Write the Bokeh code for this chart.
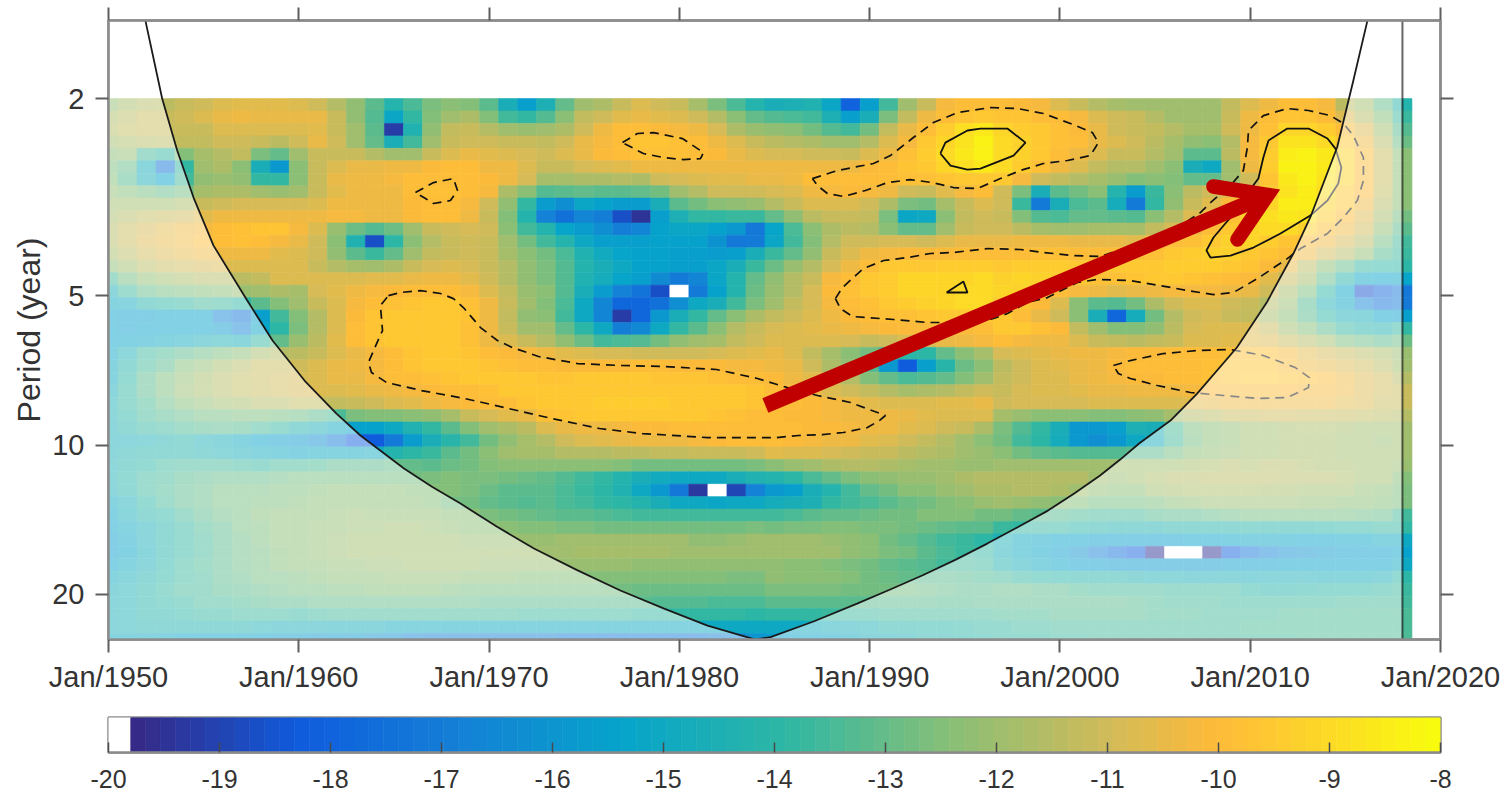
from bokeh.embed import file_html
from bokeh.resources import INLINE
from bokeh.layouts import column
from bokeh.models import (ColumnDataSource, FixedTicker, LinearAxis, LinearColorMapper,
                          LogAxis, Range1d)
from bokeh.plotting import figure
from bokeh.transform import transform
import numpy as np

# Wavelet power per cell, in tenths below zero (122 means -12.2); 200 is below the colour scale.
# One list per period row (top row: period 2), one value per year, 1950..2018.
ROW_00 = [122,118,115,114,112,110,108,106,106,106,108,110,116,122,131,142,134,126,124,125,132,147,156,
          145,130,120,117,112,108,110,112,118,126,134,143,146,145,144,152,180,156,135,120,112,102,100,99,
          100,101,102,107,111,116,118,119,119,120,120,119,113,108,104,100,100,102,114,119,130,142]
ROW_01 = [117,114,112,111,110,108,105,103,105,105,105,105,112,122,133,152,138,125,119,117,125,135,138,
          133,123,113,110,106,105,106,107,110,115,123,130,133,134,135,145,156,146,126,113,103,99,97,95,
          97,97,99,100,102,108,110,112,115,119,120,119,111,103,100,97,97,99,108,115,125,137]
ROW_02 = [116,113,111,111,111,111,108,107,108,108,107,106,111,120,132,192,144,122,113,112,115,119,121,
          120,117,110,104,100,100,101,102,104,109,117,121,122,123,128,133,136,128,113,105,99,94,89,86,
          92,94,96,98,101,105,110,112,113,116,118,118,110,103,98,92,91,94,100,108,120,133]
ROW_03 = [119,117,116,114,113,113,110,110,112,114,110,105,110,119,130,146,135,119,111,110,110,111,111,
          113,110,105,102,99,97,97,98,100,104,108,112,114,116,117,119,120,116,108,102,96,92,87,84,
          90,93,95,98,100,105,107,110,114,118,122,124,115,102,95,88,87,90,95,104,115,129]
ROW_04 = [123,122,135,138,125,118,115,113,126,130,120,111,111,111,115,120,119,112,107,105,106,108,109,
          110,108,105,101,99,98,98,98,99,101,105,107,109,109,110,110,111,108,104,98,94,90,86,83,
          90,93,95,99,103,108,111,112,116,120,132,132,114,102,94,85,83,86,92,100,112,124]
ROW_05 = [126,130,148,173,138,120,117,123,147,158,123,111,107,105,105,104,103,101,100,100,103,104,107,
          111,111,109,108,106,104,103,103,103,104,104,104,104,104,103,103,103,101,99,97,95,92,89,86,
          90,94,98,103,107,113,116,116,120,124,147,150,120,104,94,84,83,86,92,99,112,124]
ROW_06 = [125,133,146,155,136,122,121,122,138,138,123,112,105,104,103,102,100,99,100,100,101,104,109,
          118,118,117,117,116,117,110,109,107,106,106,105,105,103,100,99,99,99,99,98,98,97,96,95,
          95,102,110,113,115,118,121,125,124,125,130,130,120,110,97,86,83,87,92,100,112,123]
ROW_07 = [122,125,128,130,128,118,117,117,120,121,119,111,106,103,103,103,100,98,98,99,102,117,124,
          133,131,130,131,132,130,127,120,115,110,110,110,109,107,104,102,101,102,104,110,111,106,102,100,
          110,126,147,131,128,124,142,157,137,123,114,110,106,100,95,88,85,89,95,101,113,123]
ROW_08 = [120,120,120,119,117,112,110,109,109,109,109,107,104,104,104,103,101,100,100,102,110,122,138,
          157,162,152,154,157,157,147,132,127,123,122,121,116,111,108,107,107,110,117,126,127,118,112,108,
          110,137,170,147,134,132,148,171,139,122,111,106,101,96,91,85,85,91,96,103,115,124]
ROW_09 = [118,116,113,111,110,106,104,104,104,104,104,103,102,102,103,103,101,100,100,104,111,125,142,
          168,175,166,169,187,195,156,145,139,138,137,137,130,122,114,112,111,113,126,152,151,124,113,110,
          112,125,133,134,130,130,132,133,124,116,108,103,98,93,89,86,88,94,100,107,118,127]
ROW_10 = [116,112,109,106,104,102,99,98,97,97,102,108,121,129,133,129,119,111,110,109,110,124,136,
          143,153,157,163,169,166,155,152,152,154,159,172,153,134,124,117,114,115,123,130,130,119,112,110,
          110,114,118,119,119,118,118,118,113,109,104,100,96,92,90,90,93,98,103,110,122,131]
ROW_11 = [116,112,108,105,103,100,99,98,100,102,105,110,123,144,186,140,123,115,111,110,112,120,128,
          135,142,151,156,156,156,155,155,155,161,172,171,152,136,125,115,110,110,109,109,110,108,105,105,
          105,104,104,104,105,105,105,106,103,100,98,95,93,92,94,97,99,103,109,116,128,135]
ROW_12 = [118,114,110,107,105,104,103,103,104,106,107,110,122,132,137,130,120,113,111,110,112,118,124,
          128,134,144,149,153,155,155,156,156,157,156,147,137,130,122,112,107,104,102,101,101,101,100,100,
          100,99,98,98,99,100,100,99,98,96,94,93,93,95,97,100,103,110,116,122,133,137]
ROW_13 = [124,119,114,111,110,109,108,107,108,108,108,111,115,118,119,117,112,109,108,109,111,116,122,
          126,133,142,146,150,154,155,156,156,152,146,137,129,121,115,109,103,99,96,95,95,94,94,94,
          95,94,94,94,95,96,96,96,95,94,94,94,95,97,101,105,114,124,130,138,140,140]
ROW_14 = [136,128,122,119,117,116,115,114,113,108,108,107,107,107,106,106,105,104,104,106,110,116,122,
          126,133,144,148,153,156,164,170,166,152,142,130,122,115,111,102,99,96,94,92,91,91,91,90,
          93,92,93,94,96,98,98,97,96,96,97,98,99,101,106,111,118,130,142,152,154,153]
ROW_15 = [147,137,130,128,126,125,123,121,119,117,118,109,106,103,102,101,100,99,99,102,108,113,121,
          124,133,146,157,168,173,186,200,171,154,143,129,121,115,109,101,98,96,94,92,91,91,90,90,
          92,93,95,99,102,104,106,105,103,102,102,102,103,105,110,118,126,140,153,185,179,172]
ROW_16 = [151,149,142,140,138,136,137,140,132,125,120,112,107,102,100,98,97,96,96,98,104,112,120,
          125,134,150,166,179,178,174,162,151,146,135,126,119,113,109,102,99,98,95,94,93,92,90,90,
          95,97,101,108,124,131,133,128,117,110,108,108,110,111,116,121,133,145,152,166,174,170]
ROW_17 = [155,156,156,154,154,154,166,173,156,135,125,116,107,101,97,96,96,95,96,97,104,113,122,
          124,135,151,167,192,178,158,146,139,130,123,117,113,110,107,103,101,100,98,98,97,96,95,95,
          96,100,105,110,124,147,178,148,127,115,110,109,111,113,118,123,132,140,146,148,154,156]
ROW_18 = [155,156,155,155,155,155,158,166,153,140,126,116,107,100,97,96,95,95,96,98,104,112,120,
          120,130,140,151,169,165,150,139,131,123,116,112,109,108,106,105,103,102,101,101,101,101,101,100,
          95,96,98,101,113,120,125,125,122,114,109,107,107,108,112,120,125,132,139,142,144,139]
ROW_19 = [154,153,152,150,149,146,145,148,138,130,121,114,106,100,97,96,95,95,96,98,103,108,112,
          116,122,129,136,134,133,128,122,120,118,113,110,108,107,107,108,109,111,110,108,107,105,104,102,
          100,102,103,104,107,111,113,114,113,111,108,107,106,106,108,112,116,120,126,129,132,129]
ROW_20 = [152,145,137,134,131,129,126,123,118,115,114,111,108,105,102,99,97,96,96,97,99,101,102,
          103,106,108,109,109,110,110,110,110,109,108,106,105,108,113,118,123,128,136,140,140,130,123,118,
          109,107,106,105,104,103,102,101,101,100,100,99,98,98,98,102,106,109,111,114,117,121]
ROW_21 = [150,142,135,131,125,122,118,115,112,111,110,108,105,104,102,99,97,95,95,95,97,98,99,
          100,101,101,101,101,100,100,101,101,101,102,102,103,105,110,117,122,133,158,182,156,141,129,124,
          114,110,108,106,105,103,101,100,100,99,99,98,97,97,97,100,103,105,108,110,114,120]
ROW_22 = [150,140,132,126,122,118,115,113,111,110,109,107,105,105,102,100,99,98,97,96,96,96,96,
          97,97,96,96,96,96,97,97,97,98,99,100,101,103,106,110,116,125,130,134,133,130,125,120,
          113,110,108,107,105,104,102,101,101,100,99,98,97,96,96,97,98,100,103,107,110,115]
ROW_23 = [148,139,132,126,121,118,115,113,111,110,109,108,107,106,105,104,102,101,100,99,98,96,95,
          95,95,95,95,95,95,95,95,95,96,96,97,99,102,104,107,110,113,116,118,117,115,113,110,
          111,109,108,107,106,105,105,104,104,103,102,101,100,100,100,101,102,102,104,107,110,112]
ROW_24 = [145,139,134,129,125,122,120,118,116,115,113,113,113,111,110,108,106,104,102,101,100,99,97,
          96,95,95,94,94,94,94,95,95,95,96,97,99,100,101,102,104,106,107,108,107,106,106,105,
          110,109,109,109,109,108,108,108,108,107,106,105,104,104,104,104,104,104,106,108,111,112]
ROW_25 = [145,140,136,133,130,128,127,126,126,127,129,131,134,126,125,125,124,122,118,112,109,106,105,
          98,97,96,95,95,95,95,96,96,97,98,99,100,101,101,102,103,104,104,105,106,107,107,107,
          118,121,123,124,124,125,125,123,122,118,116,114,112,111,110,110,111,111,112,113,114,115]
ROW_26 = [146,142,139,137,134,133,132,133,135,139,144,147,150,154,154,151,144,138,132,125,120,117,114,
          108,105,104,103,102,101,101,100,100,100,99,99,99,100,101,101,102,103,104,106,108,110,112,117,
          126,133,139,146,158,159,156,145,146,134,126,123,122,120,119,118,117,117,118,119,120,120]
ROW_27 = [147,146,145,144,143,145,148,151,155,157,158,162,170,183,183,170,157,147,141,135,128,122,118,
          115,110,108,106,105,104,103,103,102,101,100,100,100,101,102,103,104,106,108,110,113,116,120,123,
          128,136,140,148,158,162,158,150,148,136,127,123,122,120,119,118,118,118,119,120,121,120]
ROW_28 = [146,144,143,142,143,144,145,148,149,151,152,151,151,150,149,143,140,137,132,128,124,120,118,
          118,116,115,115,114,114,113,113,112,112,111,110,106,107,108,109,110,111,112,114,115,117,119,121,
          124,127,130,132,133,133,133,132,131,127,124,122,121,120,119,118,118,118,119,120,120,120]
ROW_29 = [145,142,140,137,136,135,136,137,138,136,135,134,132,132,131,130,130,132,129,127,125,123,123,
          123,123,124,124,125,127,127,128,128,128,127,126,124,121,119,117,116,116,117,118,119,120,121,121,
          120,120,120,120,120,120,120,120,120,119,118,117,116,117,116,116,117,118,118,119,120,121]
ROW_30 = [145,141,137,135,133,131,130,130,130,129,128,127,127,127,128,128,127,126,125,126,126,127,129,
          130,133,135,138,142,146,149,151,150,150,147,144,
          143,140,134,130,126,124,122,121,121,119,117,116,116,115,115,115,116,119,121,119,117,115,115,114,114,114,114,115,116,116,117,119,120,125]
ROW_31 = [146,142,137,134,131,130,128,128,127,126,126,125,124,124,124,124,125,125,125,126,129,132,131,
          131,134,137,140,144,150,159,172,193,200,189,168,
          158,156,146,142,135,130,128,124,123,121,119,117,117,116,116,117,119,122,124,123,120,118,117,117,117,117,118,118,119,119,120,122,124,126]
ROW_32 = [150,146,140,136,132,130,128,127,126,126,125,124,123,123,123,123,124,125,127,128,130,131,133,
          132,134,136,138,140,143,146,150,151,152,151,150,
          148,147,145,139,136,134,132,129,127,125,124,121,120,121,122,123,125,127,128,127,126,124,122,121,121,121,121,121,122,122,123,124,125,126]
ROW_33 = [153,148,143,140,136,132,129,127,125,124,123,123,122,121,122,122,122,122,123,124,126,128,129,
          130,131,132,133,134,135,136,136,136,136,136,135,
          135,134,132,130,130,129,128,127,125,125,125,127,128,130,131,133,134,135,136,135,133,132,131,130,129,128,128,128,128,128,128,129,130,135]
ROW_34 = [155,150,146,142,138,134,131,128,126,124,123,122,122,121,121,120,120,121,122,123,124,124,125,
          125,126,126,127,127,128,128,128,127,127,127,126,
          127,126,126,125,125,126,126,127,129,130,131,132,137,138,138,139,141,143,144,144,144,143,142,142,142,141,142,142,142,141,140,140,139,139]
ROW_35 = [157,152,147,143,138,135,132,129,126,124,123,122,121,120,120,120,120,120,120,121,121,121,121,
          121,120,119,119,119,119,119,120,122,122,121,120,
          120,120,120,121,122,124,127,130,133,135,137,140,145,150,152,154,155,156,156,156,156,156,155,155,153,152,152,153,154,154,153,153,150,150]
ROW_36 = [157,153,148,142,138,135,132,129,127,125,123,122,121,120,120,120,120,119,119,119,120,120,120,
          119,119,118,118,118,118,118,119,120,120,120,119,
          119,119,119,120,122,124,126,128,131,134,137,139,147,151,153,156,160,168,175,181,195,200,200,195,181,172,167,162,160,159,157,156,156,155]
ROW_37 = [155,150,146,141,137,134,131,129,127,125,124,123,122,122,121,121,120,120,120,120,121,121,121,
          121,121,121,121,121,122,122,122,122,122,122,122,
          122,123,124,125,126,128,130,131,133,135,136,137,144,148,151,153,156,157,158,158,159,159,159,158,157,156,156,155,155,155,155,155,154,151]
ROW_38 = [150,148,144,140,137,135,132,130,128,127,126,125,124,123,123,122,122,122,122,123,123,124,125,
          125,125,125,125,125,125,125,125,125,125,126,126,
          122,123,123,124,125,127,129,130,131,132,133,134,136,139,140,141,142,142,143,144,145,145,146,146,147,148,147,147,147,148,148,148,147,140]
ROW_39 = [148,145,142,139,136,135,133,131,130,129,128,127,126,126,125,125,125,125,126,127,127,128,128,
          128,128,128,128,128,129,129,129,129,129,129,129,
          126,126,126,126,127,127,127,128,129,130,131,131,130,130,131,132,134,135,135,136,136,137,137,137,137,140,142,142,141,140,140,140,139,137]
ROW_40 = [147,145,142,140,138,136,135,134,133,132,131,130,130,130,130,130,130,130,130,130,131,132,132,
          132,132,132,132,132,132,133,133,133,134,134,134,
          131,131,131,132,132,131,131,131,132,133,133,132,131,131,131,131,131,132,132,133,134,135,136,136,137,137,137,137,137,137,136,136,136,135]
ROW_41 = [147,145,143,142,140,139,138,137,137,137,138,137,136,135,135,135,135,135,135,135,136,136,137,
          137,137,137,137,137,138,138,138,138,138,139,140,
          138,138,138,137,137,137,136,135,135,135,135,135,134,134,134,133,133,133,133,133,134,134,134,135,135,135,135,134,134,134,134,134,134,134]
ROW_42 = [146,145,144,144,144,144,144,144,145,146,146,147,148,148,148,149,149,149,150,150,150,150,150,
          150,150,150,150,150,150,150,150,150,150,150,150,
          150,150,149,148,147,145,143,142,141,141,140,139,138,137,137,136,136,136,136,135,135,135,135,135,135,134,134,134,134,134,134,134,134,134]
ROW_43 = [150,150,150,152,153,154,154,155,155,156,157,158,158,158,160,163,166,168,168,168,168,168,168,
          168,170,170,170,170,170,170,170,170,168,165,160,
          157,155,154,152,150,148,147,145,143,142,141,140,139,138,138,137,137,136,136,136,135,135,135,135,135,135,135,135,134,134,134,134,134,134]

ROWS = [ROW_00, ROW_01, ROW_02, ROW_03, ROW_04, ROW_05, ROW_06, ROW_07, ROW_08, ROW_09, ROW_10,
        ROW_11, ROW_12, ROW_13, ROW_14, ROW_15, ROW_16, ROW_17, ROW_18, ROW_19, ROW_20, ROW_21,
        ROW_22, ROW_23, ROW_24, ROW_25, ROW_26, ROW_27, ROW_28, ROW_29, ROW_30, ROW_31, ROW_32,
        ROW_33, ROW_34, ROW_35, ROW_36, ROW_37, ROW_38, ROW_39, ROW_40, ROW_41, ROW_42, ROW_43]
bad = [(i, len(r)) for i, r in enumerate(ROWS) if len(r) != 69]
if bad:
    raise SystemExit(f"bad rows: {bad}")

YEARS = list(range(1950, 2019))
X_TICKS = [1950, 1960, 1970, 1980, 1990, 2000, 2010, 2020]
X_LABELS = ["Jan/1950", "Jan/1960", "Jan/1970", "Jan/1980", "Jan/1990", "Jan/2000", "Jan/2010", "Jan/2020"]
Y_TICKS = [2, 5, 10, 20]
CB_TICKS = [-20, -19, -18, -17, -16, -15, -14, -13, -12, -11, -10, -9, -8]

# Cone of influence: year and log2(period)
COI_YEAR = [1951.94, 1952.82, 1953.61, 1954.47, 1955.52, 1957.29, 1958.62, 1960.30, 1961.98, 1963.24,
            1965.53, 1967.00, 1968.50, 1970.40, 1972.36, 1974.60, 1976.90, 1979.20, 1981.48, 1984.00,
            1984.79, 1987.05, 1989.34, 1991.05, 1992.76, 1994.50, 1996.18, 1997.80, 1999.37, 2000.75,
            2002.11, 2003.15, 2004.16, 2005.81, 2007.21, 2009.31, 2010.85, 2012.27, 2013.16, 2014.57,
            2015.42, 2016.16]
COI_LOG2P = [0.478, 1.000, 1.348, 1.663, 1.985, 2.353, 2.621, 2.889, 3.110, 3.257,
             3.478, 3.600, 3.713, 3.867, 4.014, 4.157, 4.295, 4.417, 4.530, 4.624,
             4.608, 4.503, 4.383, 4.290, 4.195, 4.090, 3.981, 3.870, 3.760, 3.645,
             3.525, 3.420, 3.311, 3.157, 2.976, 2.666, 2.370, 2.038, 1.795, 1.326,
             0.879, 0.478]

# Contours: closed outlines as year and log2(period)
DASH_A_X = [1964.71,1965.34,1966.40,1967.45,1968.13,1968.65,1969.55,1970.44,1971.23,1972.60,1974.65,1976.90,1979.22,1981.95,1984.10,1985.68,1987.26,1988.99,1990.83,1990.51,1989.88,1988.62,1987.52,1986.26,1985.10,1981.48,1978.06,1975.80,1973.28,1971.02,1968.71,1966.45,1964.61,1963.82,1963.66,1964.16,1964.40,1964.29,1964.71]
DASH_A_Y = [2.320,2.299,2.286,2.306,2.340,2.400,2.534,2.621,2.668,2.728,2.775,2.788,2.795,2.815,2.875,2.936,2.989,3.036,3.123,3.157,3.204,3.237,3.251,3.257,3.271,3.271,3.244,3.210,3.143,3.076,3.009,2.956,2.902,2.835,2.768,2.621,2.554,2.386,2.320]
DASH_B_X = [1966.13,1967.08,1968.13,1968.34,1967.97,1967.08,1966.66,1966.13]
DASH_B_Y = [1.630,1.563,1.536,1.616,1.683,1.703,1.670,1.630]
DASH_C_X = [1977.01,1977.80,1978.64,1980.16,1981.27,1981.11,1980.22,1979.16,1978.11,1977.01]
DASH_C_Y = [1.295,1.234,1.228,1.268,1.362,1.402,1.409,1.395,1.368,1.295]
DASH_D_X = [1986.99,1988.31,1990.20,1991.09,1992.30,1993.35,1994.61,1996.35,1997.77,1999.13,2000.55,2001.71,2002.02,2001.60,2000.39,1999.13,1997.92,1996.87,1995.66,1994.40,1993.30,1992.14,1990.94,1989.78,1988.62,1987.78,1987.26,1986.99]
DASH_D_Y = [1.536,1.482,1.435,1.382,1.261,1.161,1.094,1.060,1.067,1.100,1.167,1.228,1.295,1.382,1.415,1.435,1.482,1.536,1.603,1.596,1.563,1.543,1.563,1.616,1.656,1.636,1.583,1.536]
DASH_F_X = [1988.20,1988.57,1989.15,1989.67,1990.73,1991.99,1993.19,1994.40,1996.19,1997.92,1999.13,2000.71,2002.13,2005.81,2007.38,2007.91,2008.96,2009.64,2009.85,2009.91,2010.69,2011.95,2013.06,2014.21,2014.90,2015.42,2015.95,2015.95,2015.63,2014.90,2014.06,2012.64,2011.95,2010.38,2009.12,2008.07,2006.70,2005.28,2003.70,2001.97,2000.92,1999.34,1998.29,1997.24,1996.19,1994.77,1993.04,1991.25,1989.88,1989.10,1988.47,1988.20]
DASH_F_Y = [2.340,2.266,2.199,2.139,2.085,2.065,2.038,2.031,2.005,2.011,2.031,2.052,2.058,1.898,1.764,1.697,1.583,1.482,1.328,1.214,1.114,1.067,1.080,1.114,1.167,1.248,1.395,1.549,1.683,1.797,1.904,2.005,2.072,2.206,2.299,2.313,2.286,2.253,2.219,2.212,2.232,2.333,2.366,2.440,2.487,2.500,2.500,2.480,2.467,2.460,2.407,2.340]
DASH_I_X = [2002.81,2003.70,2005.44,2007.23,2008.96,2010.69,2012.37,2013.11,2013.06,2011.95,2010.38,2008.59,2006.86,2005.12,2003.70,2003.07,2002.81]
DASH_I_Y = [2.788,2.755,2.708,2.688,2.681,2.721,2.802,2.869,2.936,3.003,3.009,2.989,2.969,2.922,2.875,2.842,2.788]
SOLID_E_X = [1993.72,1993.98,1995.14,1995.82,1997.24,1998.19,1997.56,1995.82,1995.14,1994.25,1993.72]
SOLID_E_Y = [1.368,1.295,1.214,1.201,1.201,1.295,1.382,1.469,1.476,1.449,1.368]
SOLID_G_X = [2010.96,2011.95,2013.06,2014.06,2014.48,2014.79,2014.63,2014.06,2013.16,2011.59,2010.17,2008.96,2007.91,2007.70,2008.07,2008.96,2009.64,2010.43,2010.69,2010.96]
SOLID_G_Y = [1.281,1.201,1.201,1.268,1.335,1.462,1.569,1.683,1.784,1.904,1.998,2.052,2.065,2.018,1.931,1.797,1.670,1.536,1.395,1.281]
SOLID_H_X = [1994.04,1994.93,1995.14,1994.04]
SOLID_H_Y = [2.299,2.226,2.299,2.299]

# Red arrow: year and log2(period)
ARROW_SHAFT_X = [1984.52, 2010.92]
ARROW_SHAFT_Y = [3.056, 1.646]
ARROW_HEAD_X = [2008.07, 2010.92, 2009.33]
ARROW_HEAD_Y = [1.589, 1.646, 1.944]

FONT = "Liberation Sans"
FRAME = "#8c8c8c"
TICK = "#5f5f5f"
TEXT = "#333333"
TOP_P, BOTTOM_P = 1.392, 24.65

stops_f = [0, .125, .25, .375, .5, .625, .75, .83, .875, 1]
stops_c = np.array([[53,42,135],[15,92,221],[20,129,214],[6,164,202],[46,183,164],
                    [135,191,119],[209,187,89],[253,186,58],[254,200,50],[249,251,14]], float)
N_LEVELS = 88
fr = np.linspace(0, 1, N_LEVELS)
palette = ["#%02x%02x%02x" % tuple(int(round(np.interp(f, stops_f, stops_c[:, k]))) for k in range(3)) for f in fr]
mapper = LinearColorMapper(palette=palette, low=-19.8, high=-8, low_color="white", high_color=palette[-1])

values = -np.array(ROWS, float) / 10.0
edges = [2 * 2 ** (k / 12) for k in range(len(ROWS) + 1)]
left, right, top, bottom, val = [], [], [], [], []
for r in range(len(ROWS)):
    for c, yr in enumerate(YEARS):
        left.append(yr - .5); right.append(yr + .5)
        top.append(edges[r]); bottom.append(edges[r + 1])
        val.append(values[r, c])
cells = ColumnDataSource(dict(left=left, right=right, top=top, bottom=bottom, v=val))

p = figure(frame_width=1332, frame_height=619, output_backend="svg", toolbar_location=None,
           x_range=Range1d(1950, 2020), y_range=Range1d(BOTTOM_P, TOP_P), y_axis_type="log",
           min_border_left=108, min_border_right=63, min_border_top=20, min_border_bottom=61,
           background_fill_color="white", border_fill_color="white")
p.grid.visible = False
p.outline_line_color = FRAME
p.outline_line_width = 2.5

p.quad(left="left", right="right", top="top", bottom="bottom", source=cells,
       fill_color=transform("v", mapper), line_color=transform("v", mapper), line_width=0.6)


def log2p(a):
    return [2 ** v for v in a]


for xs, ys in [(DASH_A_X, DASH_A_Y), (DASH_B_X, DASH_B_Y), (DASH_C_X, DASH_C_Y), (DASH_D_X, DASH_D_Y),
               (DASH_F_X, DASH_F_Y), (DASH_I_X, DASH_I_Y)]:
    p.line(xs, log2p(ys), line_color="#111111", line_width=1.7, line_dash="9 6")
for xs, ys in [(SOLID_E_X, SOLID_E_Y), (SOLID_G_X, SOLID_G_Y), (SOLID_H_X, SOLID_H_Y)]:
    p.line(xs, log2p(ys), line_color="#111111", line_width=1.8)

apex = COI_LOG2P.index(max(COI_LOG2P))
mask_x = [1950] + COI_YEAR + [2018, 2018, COI_YEAR[apex], 1950]
mask_y = [TOP_P] + log2p(COI_LOG2P) + [TOP_P, BOTTOM_P, BOTTOM_P, BOTTOM_P]
p.patch(mask_x, mask_y, fill_color="white", fill_alpha=0.5, line_color=None)

p.line(COI_YEAR, log2p(COI_LOG2P), line_color="#1a1a1a", line_width=1.8)
p.line([2018, 2018], [TOP_P, BOTTOM_P], line_color="#000000", line_alpha=0.6, line_width=2)

p.line(ARROW_SHAFT_X, log2p(ARROW_SHAFT_Y), line_color="#c00000", line_width=15.5, line_cap="butt")
p.line(ARROW_HEAD_X, log2p(ARROW_HEAD_Y), line_color="#c00000", line_width=14.5, line_cap="round", line_join="miter")

x_over = {t: l for t, l in zip(X_TICKS, X_LABELS)}
y_over = {t: str(t) for t in Y_TICKS}

bx = p.below[0]
bx.ticker = FixedTicker(ticks=X_TICKS)
bx.major_label_overrides = x_over
ly = p.left[0]
ly.ticker = FixedTicker(ticks=Y_TICKS)
ly.major_label_overrides = y_over
ly.axis_label = "Period (year)"
ly.axis_label_text_font = FONT
ly.axis_label_text_font_size = "32px"
ly.axis_label_text_font_style = "normal"
ly.axis_label_text_color = TEXT
ly.axis_label_standoff = 2

top_axis = LinearAxis(ticker=FixedTicker(ticks=X_TICKS), major_label_overrides={t: "" for t in X_TICKS})
right_axis = LogAxis(ticker=FixedTicker(ticks=Y_TICKS), major_label_overrides={t: "" for t in Y_TICKS})
p.add_layout(top_axis, "above")
p.add_layout(right_axis, "right")

for ax in [bx, ly, top_axis, right_axis]:
    ax.axis_line_color = FRAME
    ax.axis_line_width = 2.5
    ax.major_tick_in = 0
    ax.major_tick_out = 13
    ax.major_tick_line_color = TICK
    ax.major_tick_line_width = 2
    ax.minor_tick_line_color = None
    ax.major_label_text_font = FONT
    ax.major_label_text_font_size = "29px"
    ax.major_label_text_color = TEXT
    ax.major_label_standoff = 11
bx.major_label_standoff = 8
for ax in [top_axis, right_axis]:
    ax.major_label_text_font_size = "0px"
    ax.major_label_standoff = 0

# Colour bar
cb_edges = np.linspace(-19.8, -8, N_LEVELS + 1)
cb_src = ColumnDataSource(dict(left=[-20] + list(cb_edges[:-1]), right=[-19.8] + list(cb_edges[1:]),
                               v=[-20] + list((cb_edges[:-1] + cb_edges[1:]) / 2)))
cb = figure(frame_width=1332, frame_height=35, output_backend="svg", toolbar_location=None,
            x_range=Range1d(-20, -8), y_range=Range1d(0, 1),
            min_border_left=108, min_border_right=63, min_border_top=17, min_border_bottom=40,
            background_fill_color="white", border_fill_color="white")
cb.grid.visible = False
cb.yaxis.visible = False
cb.outline_line_color = FRAME
cb.outline_line_width = 2.5
cb.quad(left="left", right="right", top=1, bottom=0, source=cb_src,
        fill_color=transform("v", mapper), line_color=transform("v", mapper), line_width=0.6)
ca = cb.below[0]
ca.ticker = FixedTicker(ticks=CB_TICKS)
ca.major_label_overrides = {t: str(t) for t in CB_TICKS}
ca.axis_line_color = FRAME
ca.axis_line_width = 2.5
ca.major_tick_in = 10
ca.major_tick_out = 0
ca.major_tick_line_color = "#4a4a4a"
ca.major_tick_line_width = 1.5
ca.minor_tick_line_color = None
ca.major_label_text_font = FONT
ca.major_label_text_font_size = "25px"
ca.major_label_text_color = TEXT
ca.major_label_standoff = 17

page = column(p, cb, spacing=0)
open("out.html", "w").write(file_html(page, INLINE))
